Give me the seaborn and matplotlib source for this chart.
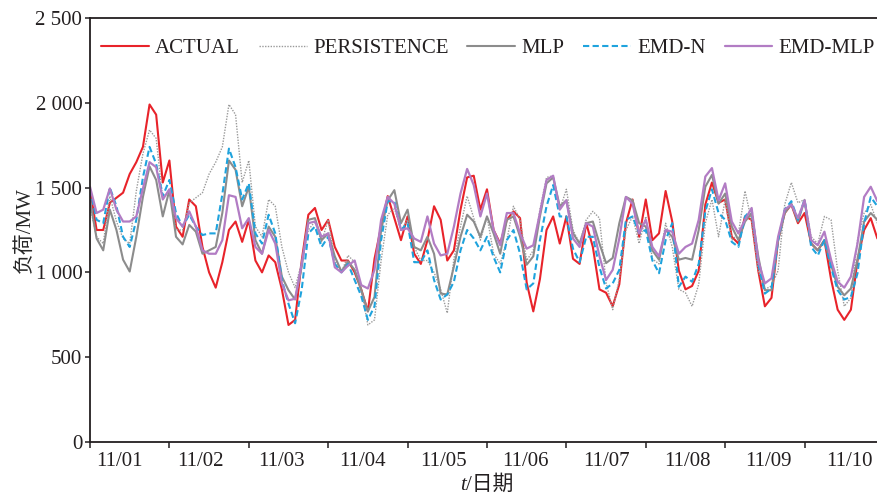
import numpy as np
import matplotlib
matplotlib.use("Agg")
import matplotlib.pyplot as plt
import seaborn as sns

# ==========================
# Data (2-hourly load, MW)
# ==========================

hours = np.arange(0, 240, 2)

actual = [
    1490, 1250, 1250, 1410, 1440, 1470, 1580, 1650, 1740, 1990, 1930, 1530,
    1660, 1270, 1210, 1430, 1390, 1150, 1000, 910, 1060, 1250, 1300, 1180,
    1310, 1070, 1000, 1100, 1060, 900, 690, 720, 1070, 1340, 1380, 1250,
    1310, 1150, 1070, 1070, 1000, 900, 770, 1080, 1270, 1450, 1320, 1190,
    1330, 1110, 1050, 1190, 1390, 1310, 1070, 1130, 1370, 1560, 1570, 1370,
    1490, 1250, 1170, 1310, 1360, 1320, 940, 770, 960, 1250, 1330, 1170,
    1330, 1080, 1050, 1290, 1150, 900, 880, 800, 930, 1290, 1430, 1210,
    1430, 1190, 1230, 1480, 1300, 1010, 900, 920, 1010, 1400, 1530, 1410,
    1430, 1210, 1170, 1330, 1310, 1010, 800, 850, 1190, 1350, 1400, 1290,
    1350, 1170, 1130, 1190, 960, 780, 720, 780, 1070, 1250, 1320, 1200,
]

persistence = [
    1390, 1210, 1170, 1450, 1300, 1200, 1170, 1480, 1700, 1840, 1790, 1430,
    1490, 1250, 1250, 1410, 1440, 1470, 1580, 1650, 1740, 1990, 1930, 1530,
    1660, 1270, 1210, 1430, 1390, 1150, 1000, 910, 1060, 1250, 1300, 1180,
    1310, 1070, 1000, 1100, 1060, 900, 690, 720, 1070, 1340, 1380, 1250,
    1310, 1150, 1070, 1070, 1000, 900, 760, 1080, 1270, 1450, 1320, 1190,
    1330, 1110, 1050, 1190, 1390, 1310, 1070, 1130, 1370, 1560, 1570, 1370,
    1490, 1250, 1170, 1310, 1360, 1320, 940, 780, 960, 1250, 1330, 1170,
    1330, 1080, 1050, 1290, 1150, 900, 880, 800, 930, 1290, 1430, 1210,
    1430, 1190, 1230, 1480, 1300, 1010, 900, 920, 1010, 1400, 1530, 1410,
    1430, 1210, 1170, 1330, 1310, 1010, 800, 850, 1190, 1350, 1400, 1290,
]

mlp = [
    1425, 1200, 1130, 1370, 1250, 1075, 1005, 1210, 1445, 1625, 1545, 1330,
    1485, 1210, 1165, 1280, 1240, 1110, 1130, 1150, 1350, 1660, 1605, 1390,
    1505, 1190, 1110, 1270, 1210, 975, 895, 840, 1035, 1310, 1320, 1190,
    1230, 1095, 1005, 1065, 1015, 895, 770, 855, 1250, 1425, 1485, 1290,
    1370, 1150, 1130, 1210, 1110, 875, 870, 1035, 1210, 1340, 1300, 1210,
    1330, 1230, 1110, 1310, 1330, 1210, 1045, 1095, 1330, 1525, 1560, 1390,
    1425, 1230, 1170, 1290, 1300, 1170, 1055, 1085, 1290, 1445, 1425, 1290,
    1270, 1130, 1075, 1250, 1210, 1075, 1085, 1075, 1250, 1505, 1575, 1405,
    1465, 1270, 1190, 1300, 1350, 1095, 895, 895, 1190, 1350, 1405, 1300,
    1425, 1170, 1130, 1190, 1045, 915, 865, 905, 1075, 1300, 1350, 1310,
]

emd_n = [
    1490, 1310, 1290, 1500, 1390, 1210, 1150, 1310, 1560, 1740, 1640, 1450,
    1545, 1350, 1270, 1340, 1270, 1220, 1230, 1230, 1460, 1730, 1620, 1430,
    1525, 1230, 1170, 1340, 1230, 955, 815, 700, 900, 1230, 1270, 1150,
    1210, 1050, 1000, 1050, 955, 860, 720, 800, 1190, 1420, 1420, 1250,
    1290, 1060, 1060, 1130, 955, 840, 870, 945, 1130, 1250, 1200, 1130,
    1210, 1090, 1000, 1190, 1250, 1110, 900, 935, 1190, 1390, 1515, 1330,
    1330, 1140, 1060, 1210, 1210, 1030, 905, 935, 1015, 1310, 1330, 1230,
    1250, 1070, 995, 1190, 1290, 915, 975, 945, 1050, 1360, 1490, 1350,
    1310, 1180, 1150, 1330, 1370, 1050, 875, 905, 1190, 1370, 1420, 1310,
    1430, 1150, 1100, 1190, 1030, 895, 840, 855, 995, 1290, 1445, 1390,
]

emd_mlp = [
    1505, 1350, 1370, 1495, 1370, 1300, 1300, 1330, 1495, 1650, 1620, 1430,
    1490, 1320, 1270, 1360, 1270, 1130, 1110, 1110, 1190, 1455, 1445, 1260,
    1320, 1150, 1110, 1250, 1170, 935, 835, 845, 1050, 1290, 1300, 1210,
    1230, 1030, 1000, 1040, 1070, 925, 905, 1015, 1310, 1445, 1405, 1250,
    1260, 1200, 1180, 1330, 1170, 1100, 1110, 1270, 1465, 1610, 1515, 1330,
    1465, 1250, 1160, 1350, 1350, 1230, 1140, 1160, 1350, 1545, 1570, 1370,
    1425, 1200, 1150, 1290, 1270, 1095, 955, 1015, 1200, 1445, 1405, 1230,
    1310, 1150, 1095, 1250, 1240, 1110, 1150, 1170, 1310, 1565, 1615, 1425,
    1525, 1300, 1230, 1310, 1380, 1070, 935, 965, 1210, 1370, 1400, 1320,
    1425, 1190, 1160, 1240, 1075, 945, 910, 975, 1170, 1445, 1505, 1420,
]

day_labels = ["11/01", "11/02", "11/03", "11/04", "11/05",
              "11/06", "11/07", "11/08", "11/09", "11/10"]
y_ticks = [0, 500, 1000, 1500, 2000, 2500]
y_labels = ["0", "500", "1 000", "1 500", "2 000", "2 500"]

# ==========================
# Style
# ==========================

sns.set_style("ticks")
plt.rcParams["font.family"] = ["Liberation Serif", "Noto Sans CJK SC"]
plt.rcParams["font.size"] = 15
plt.rcParams["text.color"] = "#231f20"
plt.rcParams["xtick.color"] = "#231f20"
plt.rcParams["ytick.color"] = "#231f20"

fig = plt.figure(figsize=(8.78, 4.96), dpi=100)
ax = fig.add_axes([0.1025, 0.1089, 0.9043, 0.8548])

series = [
    ("ACTUAL", actual, "#e8232a", "-", 1.5),
    ("PERSISTENCE", persistence, "#9a9a9a", (0, (1, 1)), 1.0),
    ("MLP", mlp, "#8c8c8c", "-", 1.5),
    ("EMD-N", emd_n, "#1fa3dd", (0, (3, 1.6)), 1.5),
    ("EMD-MLP", emd_mlp, "#b27cc4", "-", 1.6),
]

for name, vals, color, ls, lw in series:
    sns.lineplot(x=hours, y=vals, ax=ax, color=color, linestyle=ls,
                 linewidth=lw, label=name, estimator=None)

# ==========================
# Axes
# ==========================

ax.set_xlim(0, 240)
ax.set_ylim(0, 2500)

ax.set_xticks(np.arange(0, 241, 24))
ax.set_xticks([9, 33.5, 58, 82.5, 107, 131.5, 156, 180.5, 205, 229.5], minor=True)
ax.set_xticklabels(day_labels, minor=True)
ax.tick_params(axis="x", which="major", length=4.3, width=1.1, direction="out",
               labelbottom=False)
ax.tick_params(axis="x", which="minor", length=0, pad=7)

ax.set_yticks(y_ticks)
ax.set_yticklabels(y_labels)
ax.tick_params(axis="y", length=3.5, width=1.1, direction="out", pad=2)

for side in ["left", "bottom", "top", "right"]:
    ax.spines[side].set_linewidth(1.3)
    ax.spines[side].set_color("#231f20")

ax.set_xlabel("")
ax.set_ylabel("负荷/MW")
ax.yaxis.set_label_coords(-0.07, 0.5)

fig.text(0.5308, 0.012, "t", ha="right", va="baseline", style="italic",
         family="Liberation Serif", fontsize=15)
fig.text(0.5308, 0.012, "/日期", ha="left", va="baseline",
         family=["Liberation Serif", "Noto Sans CJK SC"], fontsize=15)

ax.legend(ncol=5, loc="center left", bbox_to_anchor=(101 / 878, 1 - 48 / 496),
          bbox_transform=fig.transFigure, frameon=False, handlelength=2.3,
          handletextpad=0.3, columnspacing=0.9, borderpad=0, borderaxespad=0,
          fontsize=15)

fig.savefig("out.png", dpi=100)
